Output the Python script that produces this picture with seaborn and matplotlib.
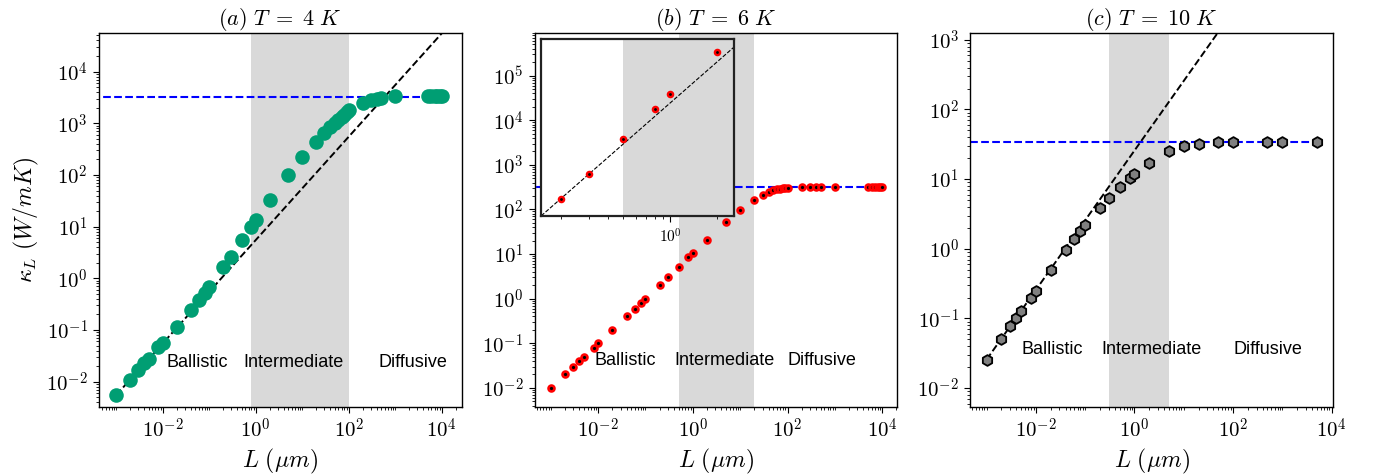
import numpy as np
import matplotlib
matplotlib.use("Agg")
import matplotlib.pyplot as plt
import matplotlib.ticker as mticker
import seaborn as sns

# DATA
a_L = [1e-3, 2e-3, 3e-3, 4e-3, 5e-3, 8e-3, 1e-2, 2e-2, 4e-2, 6e-2, 8e-2, 0.1, 0.2, 0.3, 0.5, 0.8,
       1, 2, 5, 10, 20, 30, 40, 50, 60, 70, 80, 90, 100, 200, 300, 400, 500, 1000,
       5000, 6000, 7000, 8000, 9000, 10000]
a_k = [0.0055, 0.011, 0.017, 0.0227, 0.028, 0.046, 0.057, 0.116, 0.245, 0.38, 0.51, 0.67, 1.63, 2.6, 5.4, 10,
       13.4, 33, 102, 219, 427, 640, 830, 1000, 1150, 1300, 1450, 1620, 1800, 2450, 2800, 3000, 3150, 3300,
       3300, 3300, 3300, 3300, 3300, 3300]

b_L = [1e-3, 2e-3, 3e-3, 4e-3, 5e-3, 8e-3, 1e-2, 2e-2, 4e-2, 6e-2, 8e-2, 0.1, 0.2, 0.3, 0.5, 0.8,
       1, 2, 5, 10, 20, 30, 40, 50, 60, 70, 80, 90, 100, 200, 300, 400, 500, 1000,
       5000, 6000, 7000, 8000, 9000, 10000]
b_k = [0.01, 0.02, 0.03, 0.039, 0.05, 0.08, 0.1, 0.2, 0.4, 0.6, 0.8, 1.0, 2.0, 3.0, 5.2, 8.5,
       10.7, 21, 52, 98, 165, 215, 245, 270, 282, 292, 297, 300, 305, 315, 318, 320, 320, 320,
       320, 320, 320, 320, 320, 320]

c_L = [1e-3, 2e-3, 3e-3, 4e-3, 5e-3, 8e-3, 1e-2, 2e-2, 4e-2, 6e-2, 8e-2, 0.1, 0.2, 0.3, 0.5, 0.8,
       1, 2, 5, 10, 20, 50, 100, 500, 1000, 5000]
c_k = [0.0257, 0.05, 0.077, 0.1, 0.128, 0.2, 0.25, 0.49, 0.97, 1.39, 1.8, 2.23, 3.9, 5.3, 7.8, 10.4,
       11.9, 17.3, 25.4, 29.6, 32.4, 34.2, 34.2, 34.3, 34.3, 34.3]

# bulk (diffusive) limit of each panel
bulk_k = [3280, 320, 34.3]
# ballistic reference lines (end points)
ballistic_a_x = [1e-3, 1e4]
ballistic_a_y = [5.5e-3, 5.5e4]
ballistic_c_x = [1e-3, 1e4]
ballistic_c_y = [0.0257, 2.57e5]
# fit line of the inset in (b)
inset_line_x = [0.1, 3.0]
inset_line_y = [1.05, 26.5]

# intermediate regime (shaded)
band_a = (0.8, 100)
band_b = (0.5, 20)
band_c = (0.3, 5)

titles = [r'$(a)\ T\;=\;4\ K$', r'$(b)\ T\;=\;6\ K$', r'$(c)\ T\;=\;10\ K$']
regions = ['Ballistic', 'Intermediate', 'Diffusive']

sns.set_style("ticks")
plt.rcParams['mathtext.fontset'] = 'cm'
plt.rcParams['font.family'] = ['DejaVu Sans']
plt.rcParams['axes.edgecolor'] = 'black'
plt.rcParams['axes.linewidth'] = 1.0
plt.rcParams['xtick.color'] = 'black'
plt.rcParams['ytick.color'] = 'black'
plt.rcParams['text.color'] = 'black'
plt.rcParams['axes.labelcolor'] = 'black'
plt.rcParams['xtick.major.size'] = 4.5
plt.rcParams['ytick.major.size'] = 4.5
plt.rcParams['xtick.minor.size'] = 2.5
plt.rcParams['ytick.minor.size'] = 2.5


def pow10(v, pos):
    if v <= 0:
        return ''
    return r'$10^{%d}$' % int(round(np.log10(v)))


def setup_log_axes(ax, xlim, ylim, xticks):
    ax.set(xscale='log', yscale='log')
    ax.set_xlim(*xlim)
    ax.set_ylim(*ylim)
    ax.set_xticks(xticks)
    ax.xaxis.set_minor_locator(mticker.LogLocator(base=10, subs=np.arange(1, 10), numticks=100))
    ax.yaxis.set_major_locator(mticker.LogLocator(base=10, numticks=30))
    ax.yaxis.set_minor_locator(mticker.LogLocator(base=10, subs=np.arange(2, 10), numticks=100))
    ax.xaxis.set_major_formatter(mticker.FuncFormatter(pow10))
    ax.yaxis.set_major_formatter(mticker.FuncFormatter(pow10))
    ax.xaxis.set_minor_formatter(mticker.NullFormatter())
    ax.yaxis.set_minor_formatter(mticker.NullFormatter())
    ax.tick_params(axis='both', which='major', labelsize=15)
    ax.set_xlabel(r'$L\ (\mu m)$', fontsize=17, labelpad=3)


fig, axes = plt.subplots(1, 3, figsize=(13.75, 4.76), dpi=100)
fig.subplots_adjust(left=0.072, right=0.9695, bottom=0.145, top=0.931, wspace=0.201)
xt = [1e-2, 1, 1e2, 1e4]
text_kw = dict(fontsize=13, family=['Liberation Sans', 'DejaVu Sans'], va='center', ha='left')

# (a) T = 4 K
ax = axes[0]
ax.axvspan(*band_a, color='#d9d9d9', lw=0, zorder=0)
ax.plot(ballistic_a_x, ballistic_a_y, 'k--', lw=1.4, zorder=2)
ax.plot([1e-4, 1.2e4], [bulk_k[0]] * 2, 'b--', lw=1.5, zorder=2)
sns.scatterplot(x=a_L, y=a_k, ax=ax, color='#009E73', s=110, linewidth=0, zorder=3)
setup_log_axes(ax, (4.27e-4, 2.69e4), (3.24e-3, 5.62e4), xt)
ax.set_ylabel(r'$\kappa_L\ (W/mK)$', fontsize=17, labelpad=4)
ax.text(0.012, 0.024, regions[0], **text_kw)
ax.text(0.54, 0.024, regions[1], **text_kw)
ax.text(430, 0.024, regions[2], **text_kw)

# (b) T = 6 K
ax = axes[1]
ax.axvspan(*band_b, color='#d9d9d9', lw=0, zorder=0)
ax.plot([1e-4, 1.2e4], [bulk_k[1]] * 2, 'b--', lw=1.5, zorder=2)
sns.scatterplot(x=b_L, y=b_k, ax=ax, color='black', edgecolor='red', s=18, linewidth=1.9, zorder=3)
setup_log_axes(ax, (4.57e-4, 2.09e4), (3.72e-3, 9.12e5), xt)
ax.text(0.0085, 0.042, regions[0], **text_kw)
ax.text(0.41, 0.042, regions[1], **text_kw)
ax.text(100, 0.042, regions[2], **text_kw)

# (c) T = 10 K
ax = axes[2]
ax.axvspan(*band_c, color='#d9d9d9', lw=0, zorder=0)
ax.plot(ballistic_c_x, ballistic_c_y, 'k--', lw=1.4, zorder=2)
ax.plot([1e-4, 6300], [bulk_k[2]] * 2, 'b--', lw=1.5, zorder=2)
sns.scatterplot(x=c_L, y=c_k, ax=ax, color='#808080', edgecolor='black', marker='h',
                s=60, linewidth=1.3, zorder=3)
setup_log_axes(ax, (4.68e-4, 1.07e4), (5.37e-3, 1259), xt)
ax.text(0.005, 0.036, regions[0], **text_kw)
ax.text(0.21, 0.036, regions[1], **text_kw)
ax.text(100, 0.036, regions[2], **text_kw)

for ax, t in zip(axes, titles):
    ax.set_title(t, fontsize=16, pad=5)

# inset of (b): zoom on the intermediate part
ins = fig.add_axes([0.3935, 0.546, 0.140, 0.373])
mask = [(l > 0.15) and (l < 2.5) for l in b_L]
ins_L = [l for l, m in zip(b_L, mask) if m]
ins_k = [k for k, m in zip(b_k, mask) if m]
ins.axvspan(*band_b, color='#d9d9d9', lw=0, zorder=0)
ins.plot(inset_line_x, inset_line_y, 'k--', lw=0.8, zorder=2)
sns.scatterplot(x=ins_L, y=ins_k, ax=ins, color='black', edgecolor='red', s=14, linewidth=1.7, zorder=3)
ins.set(xscale='log', yscale='log')
ins.set_xlim(0.148, 2.55)
ins.set_ylim(1.52, 26.2)
ins.set_xticks([1])
ins.xaxis.set_minor_locator(mticker.LogLocator(base=10, subs=np.arange(2, 10), numticks=100))
ins.xaxis.set_major_formatter(mticker.FuncFormatter(pow10))
ins.xaxis.set_minor_formatter(mticker.NullFormatter())
ins.yaxis.set_major_locator(mticker.NullLocator())
ins.yaxis.set_minor_locator(mticker.NullLocator())
ins.tick_params(axis='x', which='major', labelsize=11)
for sp in ins.spines.values():
    sp.set_linewidth(1.6)
    sp.set_edgecolor('#222222')

fig.savefig('out.png', dpi=100)
